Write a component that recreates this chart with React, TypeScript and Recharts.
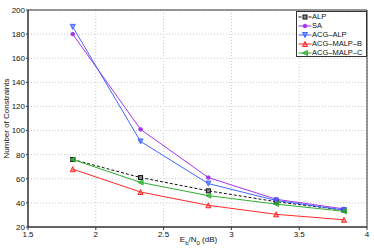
import React from 'react';
import {
  LineChart,
  Line,
  XAxis,
  YAxis,
  CartesianGrid,
  ReferenceArea,
} from 'recharts';

// Eb/N0 points (dB)
const ebn0 = [1.83, 2.33, 2.83, 3.33, 3.83];

// Number of constraints per method
const alp = [76, 61, 50, 41, 34];
const sa = [180, 101, 61, 43, 35];
const acgAlp = [186, 91, 56, 42, 34];
const acgMalpB = [68, 49, 38, 30.5, 26];
const acgMalpC = [76, 57, 46, 39, 33];

const xTicks = [1.5, 2, 2.5, 3, 3.5, 4];
const yTicks = [20, 40, 60, 80, 100, 120, 140, 160, 180, 200];

const data = ebn0.map((x, i) => ({
  x,
  alp: alp[i],
  sa: sa[i],
  acgAlp: acgAlp[i],
  acgMalpB: acgMalpB[i],
  acgMalpC: acgMalpC[i],
}));

type Shape = 'square' | 'circle' | 'down' | 'up' | 'left';

const series: { key: string; name: string; color: string; shape: Shape; dash?: string }[] = [
  { key: 'alp', name: 'ALP', color: '#111111', shape: 'square', dash: '3 2' },
  { key: 'sa', name: 'SA', color: '#a733f0', shape: 'circle' },
  { key: 'acgAlp', name: 'ACG–ALP', color: '#3f66ff', shape: 'down' },
  { key: 'acgMalpB', name: 'ACG–MALP–B', color: '#ff2a2a', shape: 'up' },
  { key: 'acgMalpC', name: 'ACG–MALP–C', color: '#2fae2f', shape: 'left' },
];

const FONT = '"Liberation Sans", Arial, sans-serif';

const marker = (shape: Shape, color: string, cx: number, cy: number, key?: any) => {
  const s = 2.5;
  switch (shape) {
    case 'square':
      return <rect key={key} x={cx - 2} y={cy - 2} width={4} height={4} fill="#888" stroke={color} strokeWidth={1} />;
    case 'circle':
      return <circle key={key} cx={cx} cy={cy} r={1.8} fill={color} stroke={color} />;
    case 'down':
      return <path key={key} d={`M${cx - s},${cy - s}L${cx + s},${cy - s}L${cx},${cy + s}Z`} fill={color} fillOpacity={0.6} stroke={color} strokeWidth={1} />;
    case 'up':
      return <path key={key} d={`M${cx - s},${cy + s}L${cx + s},${cy + s}L${cx},${cy - s}Z`} fill={color} fillOpacity={0.5} stroke={color} strokeWidth={1} />;
    case 'left':
      return <path key={key} d={`M${cx + s},${cy - s}L${cx + s},${cy + s}L${cx - s},${cy}Z`} fill={color} fillOpacity={0.6} stroke={color} strokeWidth={1} />;
  }
};

const LegendBox = () => (
  <div
    style={{
      position: 'absolute',
      left: 296,
      top: 11,
      width: 71,
      height: 46,
      boxSizing: 'border-box',
      border: '1px solid #333',
      background: '#fff',
      fontFamily: FONT,
      fontSize: 7.5,
      color: '#111',
      whiteSpace: 'nowrap',
      overflow: 'hidden',
    }}
  >
    {series.map((s) => (
      <div key={s.key} style={{ display: 'flex', alignItems: 'center', height: 9 }}>
        <svg width={14} height={8} style={{ marginLeft: 0.5, flex: 'none' }}>
          <line x1={0.5} y1={4} x2={13.5} y2={4} stroke={s.color} strokeWidth={1} strokeDasharray={s.dash} />
          {marker(s.shape, s.color, 7, 4)}
        </svg>
        <span style={{ marginLeft: 0.5, lineHeight: '9px' }}>{s.name}</span>
      </div>
    ))}
  </div>
);

const XLabel = (props: any) => {
  const vb = props.viewBox || {};
  const cx = vb.x + vb.width / 2 + 1;
  return (
    <text x={cx} y={242} fontFamily={FONT} fontSize={8} fill="#111" textAnchor="middle">
      <tspan>E</tspan>
      <tspan fontSize={6} dy={2.5}>b</tspan>
      <tspan dy={-2.5}>/N</tspan>
      <tspan fontSize={6} dy={2.5}>0</tspan>
      <tspan dy={-2.5}> (dB)</tspan>
    </text>
  );
};

const tickStyle = { fill: '#111', fontSize: 8, fontFamily: FONT };

export default function App() {
  return (
    <div style={{ position: 'relative', width: 374, height: 250, background: '#fff' }}>
      <style>{'body{margin:0}'}</style>
      <LineChart width={374} height={250} data={data} margin={{ top: 10, right: 7, left: 0, bottom: 0 }}>
        <CartesianGrid stroke="#c8c8c8" strokeDasharray="1 2" />
        <XAxis
          dataKey="x"
          type="number"
          domain={[1.5, 4]}
          ticks={xTicks}
          interval={0}
          height={23}
          stroke="#333"
          tickSize={3}
          tickMargin={1}
          tick={tickStyle}
          tickFormatter={(v: number) => String(v)}
          label={<XLabel />}
        />
        <YAxis
          type="number"
          domain={[20, 200]}
          ticks={yTicks}
          interval={0}
          width={28}
          stroke="#333"
          tickSize={2}
          tickMargin={1}
          tick={tickStyle}
          label={{
            value: 'Number of Constraints',
            angle: -90,
            position: 'insideLeft',
            offset: 0,
            dx: 6,
            dy: 40,
            style: { fontFamily: FONT, fontSize: 8, fill: '#111' },
          }}
        />
        <ReferenceArea x1={1.5} x2={4} y1={20} y2={200} fill="none" stroke="#333" strokeWidth={1} ifOverflow="visible" />
        {series.map((s) => (
          <Line
            key={s.key}
            dataKey={s.key}
            name={s.name}
            type="linear"
            stroke={s.color}
            strokeWidth={1}
            strokeDasharray={s.dash}
            isAnimationActive={false}
            dot={(p: any) => marker(s.shape, s.color, p.cx, p.cy, `${s.key}-${p.index}`)}
            activeDot={false}
          />
        ))}
      </LineChart>
      <LegendBox />
    </div>
  );
}
